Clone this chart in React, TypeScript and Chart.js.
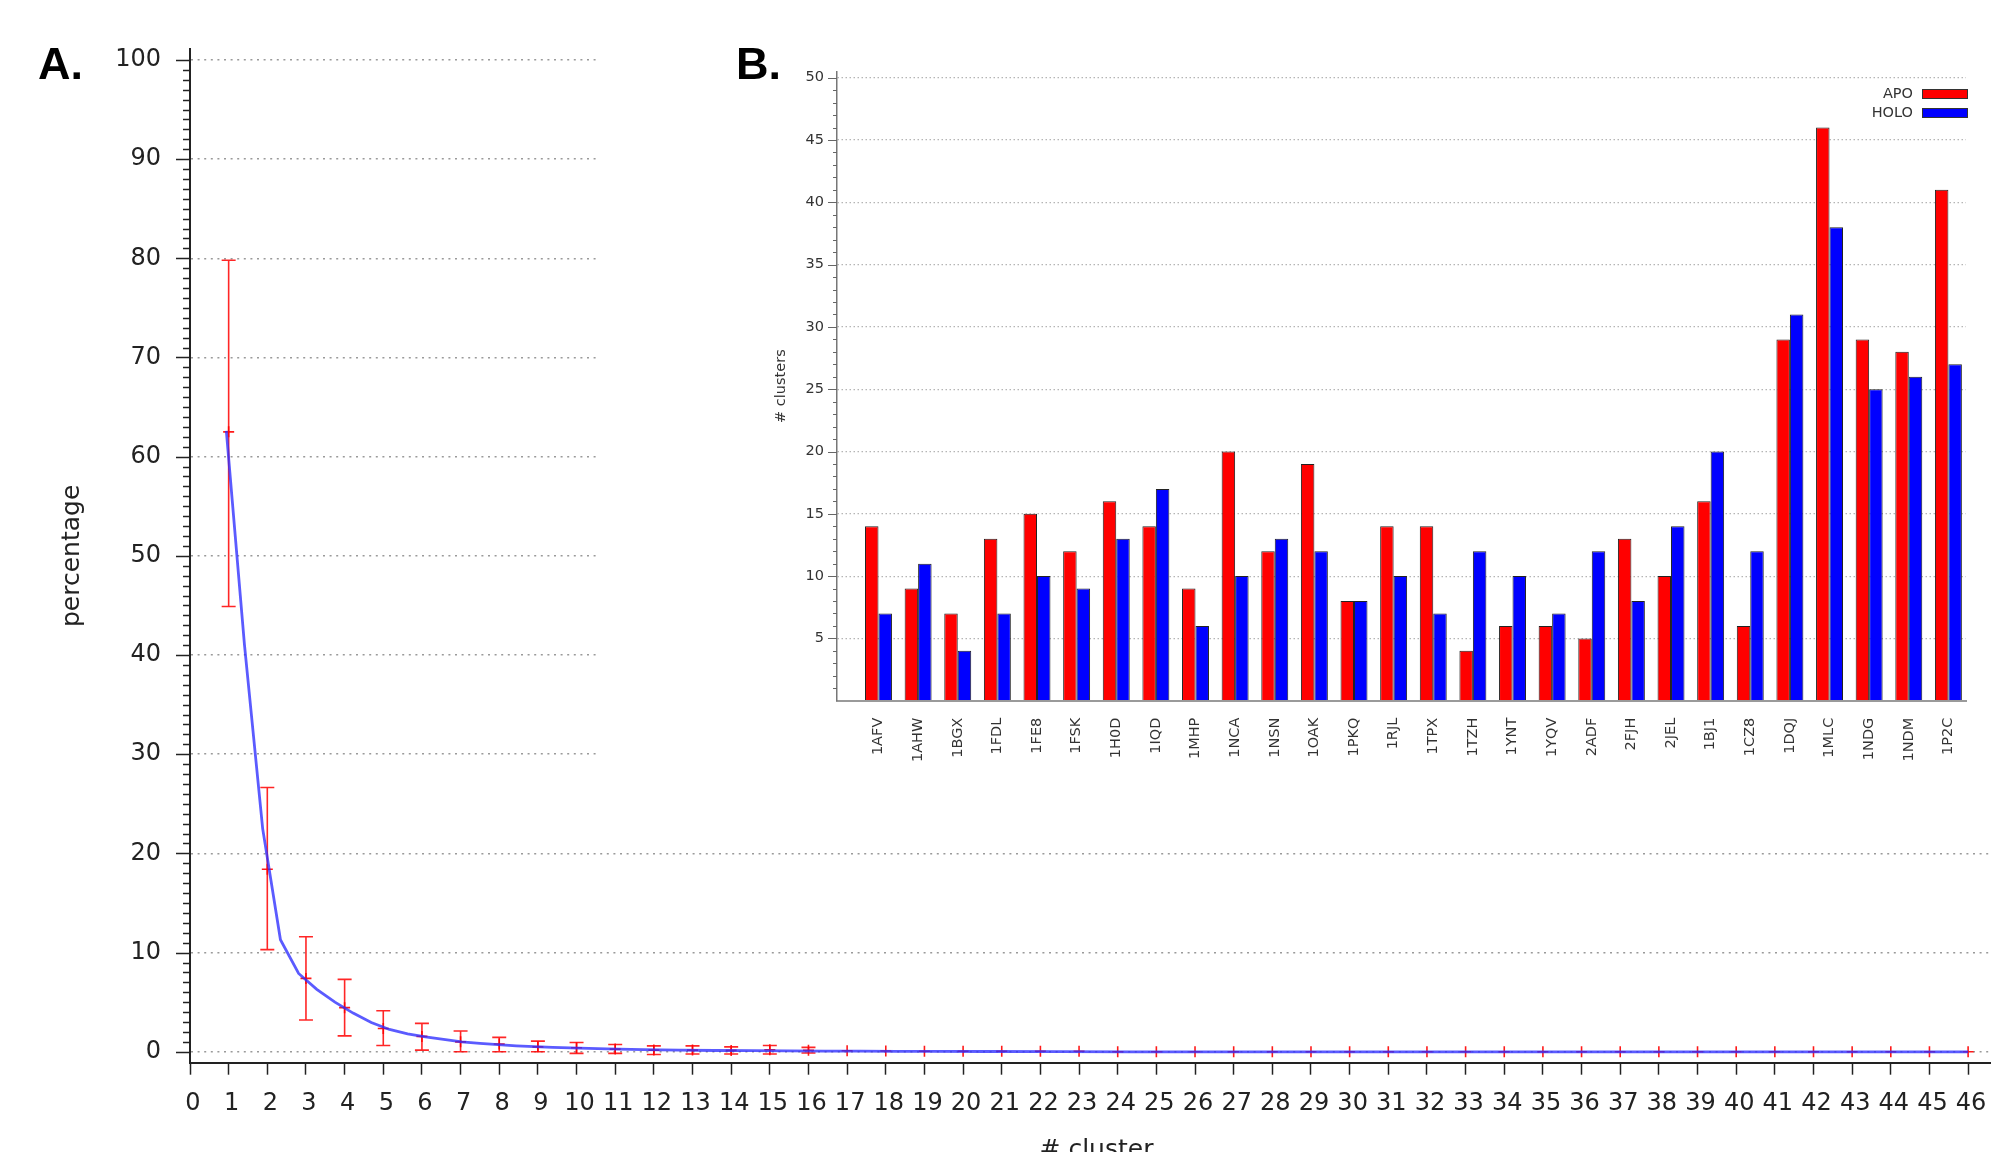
import React, { useEffect, useRef } from 'react';
import { Chart, registerables } from 'chart.js';

Chart.register(...registerables);

// ---------- Panel A data ----------
const clusterX = [1, 2, 3, 4, 5, 6, 7, 8, 9, 10, 11, 12, 13, 14, 15, 16, 17, 18, 19, 20, 21, 22, 23,
  24, 25, 26, 27, 28, 29, 30, 31, 32, 33, 34, 35, 36, 37, 38, 39, 40, 41, 42, 43, 44, 45, 46];
const meanPct = [62.5, 18.4, 7.4, 4.45, 2.35, 1.55, 1.0, 0.78, 0.5, 0.4, 0.27, 0.17, 0.17, 0.14, 0.2, 0.15,
  0.1, 0.08, 0.06, 0.05, 0.05, 0.05, 0.05,
  0, 0, 0, 0, 0, 0, 0, 0, 0, 0, 0, 0, 0, 0, 0, 0, 0, 0, 0, 0, 0, 0, 0];
const errLow = [44.9, 10.3, 3.2, 1.6, 0.64, 0.17, 0, 0, 0, -0.16, -0.16, -0.27, -0.23, -0.23, -0.23, -0.12,
  0.1, 0.08, 0.06, 0.05, 0.05, 0.05, 0.05,
  0, 0, 0, 0, 0, 0, 0, 0, 0, 0, 0, 0, 0, 0, 0, 0, 0, 0, 0, 0, 0, 0, 0];
const errHigh = [79.8, 26.65, 11.6, 7.3, 4.13, 2.86, 2.09, 1.45, 1.08, 0.94, 0.74, 0.6, 0.6, 0.5, 0.64, 0.45,
  0.1, 0.08, 0.06, 0.05, 0.05, 0.05, 0.05,
  0, 0, 0, 0, 0, 0, 0, 0, 0, 0, 0, 0, 0, 0, 0, 0, 0, 0, 0, 0, 0, 0, 0];
// fitted curve, as sampled in the figure
const fitX = [0.94, 1.41, 1.88, 2.34, 2.81, 3.28, 3.75, 4.22, 4.69, 5.16, 5.63, 6.09, 6.56, 7.03, 7.5, 7.97,
  8.44, 8.91, 9.38, 9.84, 10.78, 11.72, 12.66, 13.59, 14.53, 15.47, 16.41, 17.34, 18.28, 19.22, 20.63,
  22.5, 24.38, 46];
const fitY = [62.6, 41, 22.5, 11.3, 7.9, 6.3, 5.0, 3.9, 2.95, 2.25, 1.8, 1.5, 1.25, 1.0, 0.85, 0.72,
  0.6, 0.52, 0.45, 0.4, 0.3, 0.22, 0.17, 0.13, 0.11, 0.09, 0.07, 0.06, 0.05, 0.04, 0.03,
  0.02, 0.0, 0.0];

// ---------- Panel B data ----------
const antibodies = ['1AFV', '1AHW', '1BGX', '1FDL', '1FE8', '1FSK', '1H0D', '1IQD', '1MHP', '1NCA', '1NSN',
  '1OAK', '1PKQ', '1RJL', '1TPX', '1TZH', '1YNT', '1YQV', '2ADF', '2FJH', '2JEL', '1BJ1', '1CZ8', '1DQJ',
  '1MLC', '1NDG', '1NDM', '1P2C'];
const apoClusters = [14, 9, 7, 13, 15, 12, 16, 14, 9, 20, 12, 19, 8, 14, 14, 4, 6, 6, 5, 13, 10, 16, 6, 29, 46, 29, 28, 41];
const holoClusters = [7, 11, 4, 7, 10, 9, 13, 17, 6, 10, 13, 12, 8, 10, 7, 12, 10, 7, 12, 8, 14, 20, 12, 31, 38, 25, 26, 27];
const seriesNames = ['APO', 'HOLO'];
const seriesColors = ['#ff0000', '#0000ff'];

const FAMILY = "'DejaVu Sans', sans-serif";

const errorBarsPlugin = {
  id: 'errorBars',
  beforeDatasetsDraw(chart: any) {
    const { ctx, scales } = chart;
    const xs = scales.x;
    const ys = scales.y;
    ctx.save();
    ctx.strokeStyle = 'rgba(255,0,0,0.85)';
    ctx.lineWidth = 1.6;
    clusterX.forEach((cx, i) => {
      if (errHigh[i] === errLow[i]) return;
      const px = xs.getPixelForValue(cx);
      const pH = ys.getPixelForValue(errHigh[i]);
      const pL = ys.getPixelForValue(errLow[i]);
      ctx.beginPath();
      ctx.moveTo(px, pH);
      ctx.lineTo(px, pL);
      ctx.moveTo(px - 7, pH);
      ctx.lineTo(px + 7, pH);
      ctx.moveTo(px - 7, pL);
      ctx.lineTo(px + 7, pL);
      ctx.stroke();
    });
    ctx.restore();
  },
};

function makeTickPlugin(id: string, majorEvery: number, majorLen: number, minorLen: number,
  lo: number, hi: number, color: string, width: number) {
  return {
    id,
    afterDraw(chart: any) {
      const s = chart.scales.y;
      const { ctx } = chart;
      ctx.save();
      ctx.strokeStyle = color;
      ctx.lineWidth = width;
      ctx.beginPath();
      s.ticks.forEach((t: any) => {
        if (t.value < lo || t.value > hi) return;
        const len = t.value % majorEvery === 0 ? majorLen : minorLen;
        const py = Math.round(s.getPixelForValue(t.value)) + 0.5;
        ctx.moveTo(s.right - len, py);
        ctx.lineTo(s.right, py);
      });
      ctx.stroke();
      ctx.restore();
    },
  };
}

const legendPlugin = {
  id: 'cornerLegend',
  afterDraw(chart: any) {
    const { ctx } = chart;
    ctx.save();
    ctx.font = `14.5px ${FAMILY}`;
    ctx.textAlign = 'right';
    ctx.textBaseline = 'middle';
    chart.data.datasets.forEach((ds: any, i: number) => {
      const yTop = 89 + i * 19;
      ctx.fillStyle = '#333';
      ctx.fillText(ds.label, 1313, yTop + 5);
      ctx.fillStyle = ds.backgroundColor;
      ctx.fillRect(1322, yTop, 46, 10);
      ctx.strokeStyle = '#333';
      ctx.lineWidth = 1;
      ctx.strokeRect(1322.5, yTop + 0.5, 45, 9);
    });
    ctx.restore();
  },
};

export default function App() {
  const refA = useRef<HTMLCanvasElement>(null);
  const refB = useRef<HTMLCanvasElement>(null);

  useEffect(() => {
    Chart.defaults.font.family = FAMILY;
    const chartA = new Chart(refA.current as HTMLCanvasElement, {
      type: 'scatter',
      data: {
        datasets: [
          {
            label: 'fit',
            data: fitX.map((x, i) => ({ x, y: fitY[i] })),
            showLine: true,
            borderColor: 'rgba(45,45,255,0.78)',
            borderWidth: 2.8,
            pointRadius: 0,
            tension: 0,
            order: 0,
          } as any,
          {
            label: 'mean',
            data: clusterX.map((x, i) => ({ x, y: meanPct[i] })),
            pointStyle: 'cross',
            pointRadius: 5.5,
            borderColor: 'rgba(255,0,0,0.9)',
            borderWidth: 1.6,
            order: 1,
          } as any,
        ],
      },
      options: {
        responsive: false,
        animation: false,
        layout: { padding: { top: 49, left: 0, right: 0, bottom: 0 } },
        plugins: { legend: { display: false }, tooltip: { enabled: false } },
        scales: {
          x: {
            type: 'linear',
            min: 0,
            max: 46.9,
            afterFit: (s: any) => { s.height = 1200 - 1062.7; s.paddingLeft = 0; s.paddingRight = 0; },
            ticks: {
              stepSize: 1,
              includeBounds: false,
              autoSkip: false,
              maxRotation: 0,
              minRotation: 0,
              padding: 15,
              labelOffset: 3,
              color: '#222',
              font: { size: 24, family: FAMILY },
              callback: (v: any) => String(v),
            },
            grid: { drawOnChartArea: false, drawTicks: true, tickLength: 12, tickColor: '#222', tickWidth: 1.5 },
            border: { display: true, color: '#222', width: 2 },
            title: {
              display: true,
              text: '# cluster',
              color: '#222',
              font: { size: 25, family: FAMILY },
              padding: { top: 0, bottom: 35 },
            },
          },
          y: {
            type: 'linear',
            min: -1.1,
            max: 101.1,
            afterFit: (s: any) => { s.width = 190; },
            ticks: {
              stepSize: 1,
              includeBounds: false,
              autoSkip: false,
              padding: 29,
              color: '#222',
              font: { size: 24, family: FAMILY },
              callback: (v: any) => (Number(v) % 10 === 0 ? String(v) : ''),
            },
            grid: {
              drawTicks: false,
              lineWidth: 1.5,
              color: (c: any) => (c.tick && c.tick.value % 10 === 0 && c.tick.value >= 0 ? '#9a9a9a' : 'rgba(0,0,0,0)'),
            },
            border: { display: true, color: '#222', width: 2, dash: [2, 4.6] },
            title: {
              display: true,
              text: 'percentage',
              color: '#222',
              font: { size: 25, family: FAMILY },
              padding: { top: 57, bottom: 0 },
            },
          },
        },
      } as any,
      plugins: [errorBarsPlugin, makeTickPlugin('ticksA', 10, 14, 7, 0, 100, '#222', 1.6)],
    });

    const chartB = new Chart(refB.current as HTMLCanvasElement, {
      type: 'bar',
      data: {
        datasets: seriesNames.map((name, k) => ({
          label: name,
          data: (k === 0 ? apoClusters : holoClusters).map((v, i) => ({ x: i, y: v })),
          backgroundColor: seriesColors[k],
          borderColor: '#222',
          borderWidth: 1,
          categoryPercentage: 0.68,
          barPercentage: 1.0,
        })),
      },
      options: {
        responsive: false,
        animation: false,
        layout: { padding: { top: 71.5, left: 0, right: 25, bottom: 0 } },
        plugins: { legend: { display: false }, tooltip: { enabled: false } },
        scales: {
          x: {
            type: 'linear',
            min: -1.047,
            max: 27.444,
            offset: false,
            afterFit: (s: any) => { s.height = 800 - 700.7; },
            ticks: {
              stepSize: 1,
              includeBounds: false,
              autoSkip: false,
              minRotation: 90,
              maxRotation: 90,
              padding: 9,
              color: '#333',
              font: { size: 14.5, family: FAMILY },
              callback: (v: any) => antibodies[Number(v)] ?? '',
            },
            grid: { display: false },
            border: { display: true, color: '#9a9a9a', width: 2 },
          },
          y: {
            type: 'linear',
            min: 0,
            max: 50.5,
            afterFit: (s: any) => { s.width = 237; },
            ticks: {
              stepSize: 1,
              includeBounds: false,
              autoSkip: false,
              padding: 13,
              color: '#333',
              font: { size: 14.5, family: FAMILY },
              callback: (v: any) => (Number(v) % 5 === 0 && Number(v) > 0 ? String(v) : ''),
            },
            grid: {
              drawTicks: false,
              lineWidth: 1.2,
              color: (c: any) => (c.tick && c.tick.value % 5 === 0 && c.tick.value > 0 ? '#b5b5b5' : 'rgba(0,0,0,0)'),
            },
            border: { display: true, color: '#777', width: 1.5, dash: [1.5, 2.5] },
            title: {
              display: true,
              text: '# clusters',
              color: '#333',
              font: { size: 14.5, family: FAMILY },
              padding: { top: 172.3, bottom: 0 },
            },
          },
        },
      } as any,
      plugins: [makeTickPlugin('ticksB', 5, 9, 4, 1, 50, '#666', 1.2), legendPlugin],
    });

    return () => {
      chartA.destroy();
      chartB.destroy();
    };
  }, []);

  const panelLabel: React.CSSProperties = {
    position: 'absolute',
    top: 41,
    fontFamily: "'Liberation Sans', Arial, sans-serif",
    fontWeight: 'bold',
    fontSize: 45,
    lineHeight: '45px',
    color: '#000',
    margin: 0,
  };

  return (
    <div style={{ position: 'absolute', left: 0, top: 0, width: 1991, height: 1152, overflow: 'hidden', background: '#fff' }}>
      <canvas ref={refA} width={2010} height={1200} style={{ position: 'absolute', left: 0, top: 0, width: 2010, height: 1200 }} />
      <canvas ref={refB} width={1391} height={800} style={{ position: 'absolute', left: 600, top: 0, width: 1391, height: 800, background: '#fff' }} />
      <div style={{ ...panelLabel, left: 38 }}>A.</div>
      <div style={{ ...panelLabel, left: 736 }}>B.</div>
    </div>
  );
}
